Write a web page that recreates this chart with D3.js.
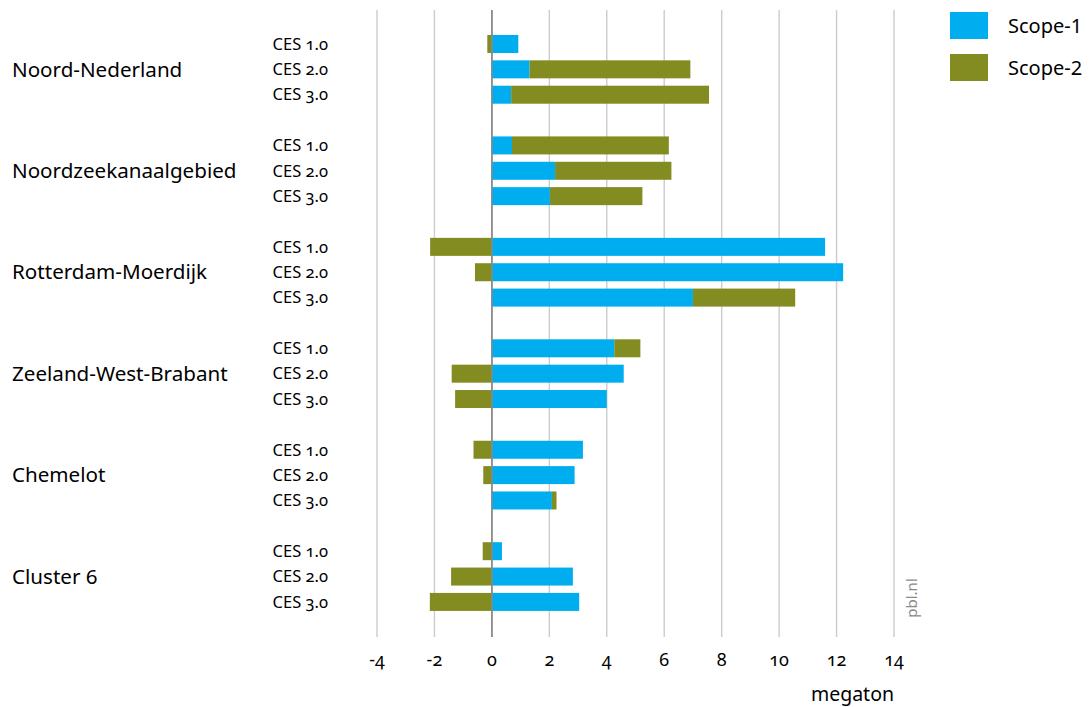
<!DOCTYPE html>
<html>
<head>
<meta charset="utf-8">
<script src="https://cdn.jsdelivr.net/npm/d3@7"></script>
<style>
  body { margin: 0; background: #fff; }
  svg text { font-family: "Noto Sans", "Open Sans", sans-serif; fill: #000; }
</style>
</head>
<body>
<script>
// data (megaton)
const regions = ["Noord-Nederland", "Noordzeekanaalgebied", "Rotterdam-Moerdijk",
                 "Zeeland-West-Brabant", "Chemelot", "Cluster 6"];
const scenarios = ["CES 1.0", "CES 2.0", "CES 3.0"];
// one entry per region, three scenarios each
const scope1 = [
  [0.92, 1.31, 0.67],
  [0.70, 2.20, 2.02],
  [11.60, 12.23, 7.00],
  [4.26, 4.59, 4.00],
  [3.17, 2.88, 2.09],
  [0.35, 2.82, 3.04]
];
const scope2 = [
  [-0.16, 5.60, 6.89],
  [5.46, 4.05, 3.22],
  [-2.15, -0.59, 3.56],
  [0.91, -1.40, -1.28],
  [-0.64, -0.30, 0.16],
  [-0.32, -1.42, -2.16]
];
const xTicks = [-4, -2, 0, 2, 4, 6, 8, 10, 12, 14];
const seriesNames = ["Scope-1", "Scope-2"];
const colors = ["#00aeef", "#838c21"];

const W = 1090, H = 707;
const svg = d3.select("body").append("svg").attr("width", W).attr("height", H);

const x = d3.scaleLinear().domain([-4, 14]).range([377, 894]);

// row slots: 3 scenario rows per region, one blank slot between regions
const slots = [];
regions.forEach((r, i) => {
  scenarios.forEach((s, j) => slots.push(i + "|" + j));
  if (i < regions.length - 1) slots.push("gap" + i);
});
const y = d3.scaleBand().domain(slots).range([31.3, 614.6]).paddingInner(0.29).paddingOuter(0.145);

// gridlines
svg.append("g").selectAll("line").data(xTicks).join("line")
  .attr("x1", d => x(d)).attr("x2", d => x(d))
  .attr("y1", 10).attr("y2", 637)
  .attr("stroke", d => d === 0 ? "#8a8a8a" : "#cccccc")
  .attr("stroke-width", 1.4);

// bars
const rows = [];
regions.forEach((r, i) => scenarios.forEach((s, j) => {
  const key = i + "|" + j;
  const s1 = scope1[i][j], s2 = scope2[i][j];
  rows.push({ key, x0: 0, x1: s1, c: 0 });
  if (s2 >= 0) rows.push({ key, x0: Math.max(s1, 0), x1: Math.max(s1, 0) + s2, c: 1 });
  else rows.push({ key, x0: s2 + Math.min(s1, 0), x1: Math.min(s1, 0), c: 1 });
}));

svg.append("g").selectAll("rect").data(rows).join("rect")
  .attr("x", d => x(Math.min(d.x0, d.x1)))
  .attr("width", d => Math.abs(x(d.x1) - x(d.x0)))
  .attr("y", d => y(d.key))
  .attr("height", y.bandwidth())
  .attr("fill", d => colors[d.c]);

// zero line on top
svg.append("line")
  .attr("x1", x(0)).attr("x2", x(0)).attr("y1", 10).attr("y2", 637)
  .attr("stroke", "#8a8a8a").attr("stroke-width", 1.4);

// scenario labels
svg.append("g").selectAll("text").data(slots.filter(s => s.indexOf("gap") < 0)).join("text")
  .attr("x", 328)
  .attr("y", d => y(d) + y.bandwidth() / 2)
  .attr("dy", "0.35em")
  .attr("text-anchor", "end")
  .style("font-size", "16.5px")
  .style("font-variant-numeric", "oldstyle-nums")
  .text(d => scenarios[+d.split("|")[1]]);

// region labels
svg.append("g").selectAll("text").data(regions).join("text")
  .attr("x", 12)
  .attr("y", (d, i) => y(i + "|1") + y.bandwidth() / 2)
  .attr("dy", "0.35em")
  .style("font-size", "20.6px")
  .text(d => d);

// x axis tick labels
svg.append("g").selectAll("text").data(xTicks).join("text")
  .attr("x", d => x(d))
  .attr("y", 666)
  .attr("text-anchor", "middle")
  .style("font-size", "18px")
  .style("font-variant-numeric", "oldstyle-nums")
  .text(d => d);

svg.append("text")
  .attr("x", 894).attr("y", 701)
  .attr("text-anchor", "end")
  .style("font-size", "19.5px")
  .text("megaton");

// source
svg.append("text")
  .attr("transform", "translate(917,598) rotate(-90)")
  .attr("text-anchor", "middle")
  .style("font-size", "15px")
  .style("fill", "#8a8a8a")
  .text("pbl.nl");

// legend
const leg = svg.append("g").selectAll("g").data(seriesNames).join("g")
  .attr("transform", (d, i) => `translate(950,${12 + i * 42})`);
leg.append("rect").attr("width", 38).attr("height", 27).attr("fill", (d, i) => colors[i]);
leg.append("text").attr("x", 58).attr("y", 14).attr("dy", "0.35em")
  .style("font-size", "20px").text(d => d);
</script>
</body>
</html>
